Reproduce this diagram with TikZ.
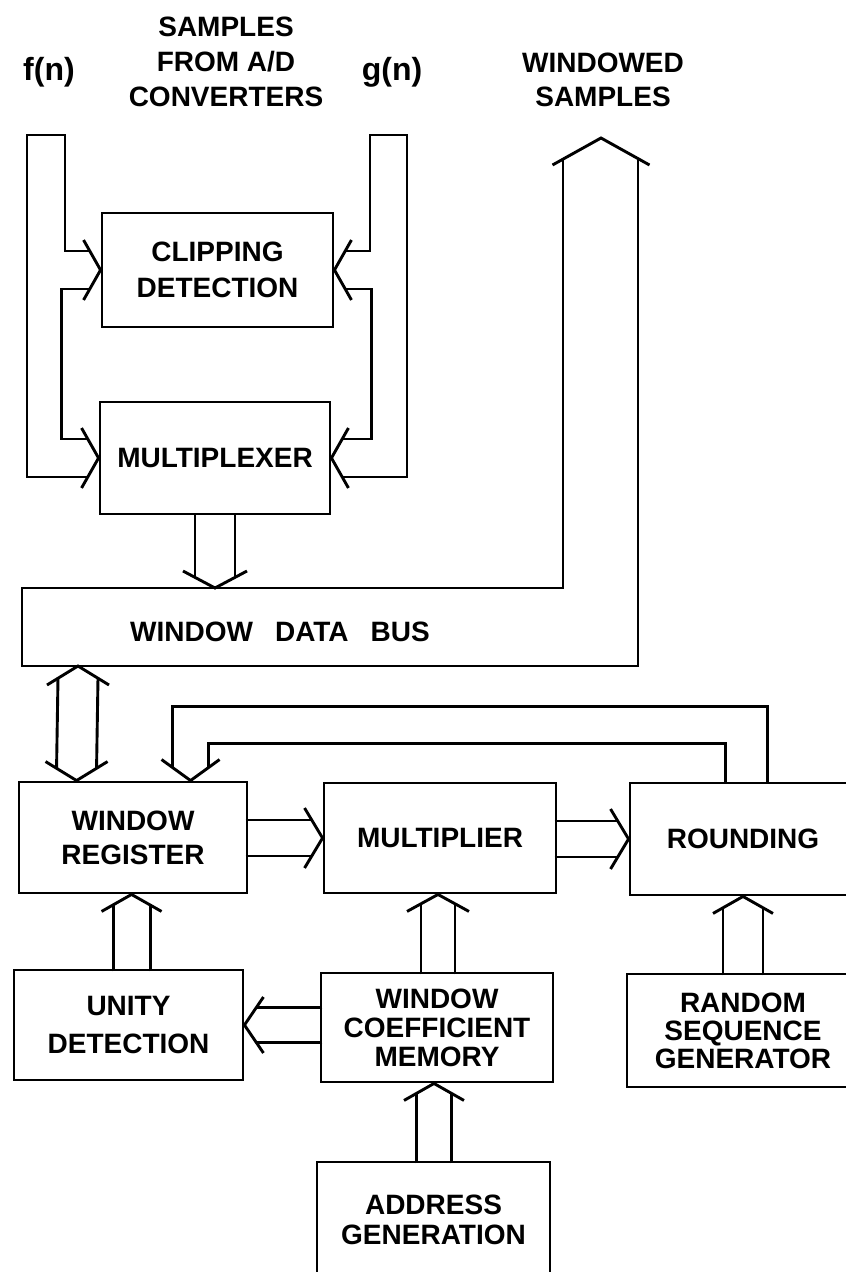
\documentclass[tikz,border=0pt]{standalone}
\usepackage{fontspec}
\setmainfont{Liberation Sans}
\usetikzlibrary{calc}
\newcommand{\labf}[1]{\bfseries\fontsize{28}{#1}\selectfont}
\newcommand{\fnfont}{\bfseries\fontsize{32}{36}\selectfont}
% chevron (broad arrow head): tip, angle, half width, depth
\newcommand{\chev}[4]{\draw[wire,shift={(#1)},rotate=#2] (-#4,#3) -- (0,0) -- (-#4,-#3);}
% double-line bus arrow: tip, angle, half spacing, barb half width, depth, length
\newcommand{\busarr}[6]{%
  \begin{scope}[shift={(#1)},rotate=#2]
    \draw[wire] (-#6,#3) -- ({-#5*#3/#4},#3) (-#6,-#3) -- ({-#5*#3/#4},-#3);
    \draw[wire] (-#5,#4) -- (0,0) -- (-#5,-#4);
  \end{scope}}
\begin{document}
\begin{tikzpicture}[x=1pt,y=-1pt,
  wire/.style={line width=2.9pt,line join=miter,miter limit=10},
  blk/.style={draw,line width=2.9pt,rectangle,inner sep=0pt,align=center},
  txt/.style={inner sep=0pt,align=center}]
\fill[white] (0,0) rectangle (846,1272);
\useasboundingbox (0,0) rectangle (846,1272);
\clip (0,0) rectangle (846,1272);

% free texts
\node[txt,font={\labf{35}}] (src) at (226,62) {SAMPLES\\FROM A/D\\CONVERTERS};
\node[txt,font=\fnfont] (fn) at (49,72) {f(n)};
\node[txt,font=\fnfont] (gn) at (392,72) {g(n)};
\node[txt,font={\labf{34}}] (ws) at (603,80) {WINDOWED\\SAMPLES};

% blocks
\node[blk,font={\labf{36}},minimum width=231pt,minimum height=114pt] (clip) at (217.5,270) {CLIPPING\\DETECTION};
\node[blk,font={\labf{34}},minimum width=230pt,minimum height=112pt] (mux) at (215,458) {MULTIPLEXER};
\node[blk,font={\labf{34}},minimum width=228pt,minimum height=111pt] (wr) at (133,837.5) {WINDOW\\REGISTER};
\node[blk,font={\labf{34}},minimum width=232pt,minimum height=110pt] (mul) at (440,838) {MULTIPLIER};
\node[blk,font={\labf{34}},minimum width=226pt,minimum height=112pt] (rnd) at (743,839) {ROUNDING};
\node[blk,font={\labf{38}},minimum width=229pt,minimum height=110pt] (uni) at (128.5,1025) {UNITY\\DETECTION};
\node[blk,font={\labf{29}},minimum width=232pt,minimum height=109pt] (wcm) at (437,1027.5) {WINDOW\\COEFFICIENT\\MEMORY};
\node[blk,font={\labf{28}},minimum width=232pt,minimum height=113pt] (rsg) at (743,1030.5) {RANDOM\\SEQUENCE\\GENERATOR};
\node[blk,font={\labf{30}},minimum width=233pt,minimum height=116pt] (adr) at (433.5,1220) {ADDRESS\\GENERATION};

% window data bus
\node[txt,font={\labf{30}}] (bus) at (280,632) {WINDOW\hspace{22pt}DATA\hspace{22pt}BUS};
\coordinate (busin) at (215,588);
\coordinate (busout) at (78,666);
\coordinate (wintip) at (601,138);
\draw[wire] ($(wintip)+(-38,21)$) -- (563,588) -- (22,588) -- (22,666) -- (638,666) -- ($(wintip)+(37,21)$);
\chev{wintip}{90}{48.5}{27}

% f(n) channel
\draw[wire] ($(mux.west)+(-11,19)$) -| (27,135) -- (65,135) |- ($(clip.west)+(-11,-19)$);
\draw[wire] ($(clip.west)+(-11,19)$) -| ($(mux.west)+(-37,-19)$) -- ($(mux.west)+(-11,-19)$);
\chev{clip.west}{0}{30}{17}
\chev{mux.west}{0}{30}{17}

% g(n) channel
\draw[wire] ($(mux.east)+(11,19)$) -| (407,135) -- (370,135) |- ($(clip.east)+(11,-19)$);
\draw[wire] ($(clip.east)+(11,19)$) -| ($(mux.east)+(40,-19)$) -- ($(mux.east)+(11,-19)$);
\chev{clip.east}{180}{30}{17}
\chev{mux.east}{180}{30}{17}

% multiplexer -> bus
\busarr{busin}{-90}{20}{32}{17}{74}

% bus <-> window register
\coordinate (bd) at ($(wr.north west)+(59,0)$);
\chev{busout}{90}{31}{19}
\chev{bd}{-90}{31}{19}
\draw[wire] ($(busout)+(-20,12)$) -- ($(bd)+(-20,-12)$);
\draw[wire] ($(busout)+(20,12)$) -- ($(bd)+(20,-12)$);

% feedback from rounding
\coordinate (lp) at ($(wr.north west)+(173,0)$);
\draw[wire] ($(rnd.north west)+(139,0)$) -- ++(0,-75) -| ($(lp)+(-18,-13)$);
\draw[wire] ($(rnd.north west)+(97,0)$) -- ++(0,-38) -| ($(lp)+(18,-13)$);
\chev{lp}{-90}{29}{21}

% horizontal buses
\busarr{mul.west}{0}{18}{30}{18}{77}
\busarr{rnd.west}{0}{18}{30}{18}{74}
\busarr{uni.east}{180}{17.5}{28}{19}{78}

% vertical buses
\coordinate (u2w) at ($(wr.south west)+(114,0)$);
\busarr{u2w}{90}{18.5}{30}{17}{77}
\coordinate (w2m) at ($(mul.south)+(-2,0)$);
\busarr{w2m}{90}{17}{31}{17}{80}
\busarr{rnd.south}{90}{20}{30}{17}{79}
\coordinate (a2w) at ($(wcm.south)+(-3,0)$);
\busarr{a2w}{90}{17.5}{30}{17}{80}
\end{tikzpicture}
\end{document}
